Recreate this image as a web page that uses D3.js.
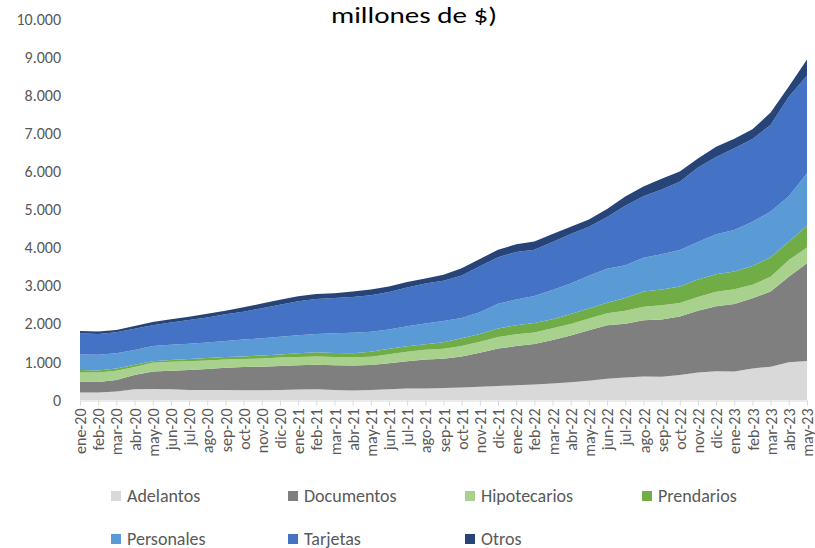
<!DOCTYPE html>
<html>
<head>
<meta charset="utf-8">
<script src="https://cdn.jsdelivr.net/npm/d3@7/dist/d3.min.js"></script>
<style>
  body { margin: 0; background: #fff; }
  svg { display: block; font-family: Carlito, Calibri, Lato, "Open Sans", sans-serif; }
</style>
</head>
<body>
<svg id="chart" width="815" height="548"></svg>
<script>
// months (ene-20 .. may-23)
const months = ['ene-20','feb-20','mar-20','abr-20','may-20','jun-20','jul-20','ago-20','sep-20','oct-20','nov-20','dic-20',
  'ene-21','feb-21','mar-21','abr-21','may-21','jun-21','jul-21','ago-21','sep-21','oct-21','nov-21','dic-21',
  'ene-22','feb-22','mar-22','abr-22','may-22','jun-22','jul-22','ago-22','sep-22','oct-22','nov-22','dic-22',
  'ene-23','feb-23','mar-23','abr-23','may-23'];

// series values, millones de $
const adelantos    = [200,200,220,280,290,280,265,260,260,255,255,260,275,280,260,250,260,280,300,305,315,330,350,365,385,410,435,465,505,560,590,615,610,655,720,755,745,830,875,990,1025];
const documentos   = [285,275,305,375,455,490,520,555,585,610,620,630,640,645,655,655,660,685,720,755,770,810,890,985,1030,1060,1140,1225,1325,1400,1410,1480,1505,1535,1620,1705,1775,1840,1970,2245,2565];
const hipotecarios = [235,245,245,210,230,235,230,225,215,210,215,225,215,220,215,215,215,235,245,260,260,280,290,305,310,300,305,305,310,320,345,350,375,355,365,380,385,355,390,440,410];
const prendarios   = [65,55,60,60,45,45,60,60,70,70,80,80,100,110,105,110,130,145,145,145,170,200,205,220,240,250,240,260,260,270,335,400,410,435,455,460,465,495,510,480,575];
const personales   = [410,410,395,390,400,400,400,410,420,440,450,465,470,480,520,535,525,505,525,540,560,535,565,650,670,710,765,805,860,895,860,890,925,960,990,1050,1090,1160,1200,1190,1375];
const tarjetas     = [555,550,550,555,545,585,625,655,700,730,790,840,890,915,920,940,960,985,1015,1050,1055,1110,1210,1225,1250,1215,1265,1295,1285,1355,1560,1615,1700,1790,1950,2030,2150,2170,2280,2615,2570];
const otros        = [60,65,65,75,85,85,85,100,95,120,120,130,130,130,130,145,150,145,145,135,160,195,190,195,200,215,205,195,190,215,240,255,280,265,240,265,250,255,320,270,420];

const seriesNames  = ['Adelantos','Documentos','Hipotecarios','Prendarios','Personales','Tarjetas','Otros'];
const seriesValues = [adelantos, documentos, hipotecarios, prendarios, personales, tarjetas, otros];
const seriesColors = ['#d9d9d9','#7f7f7f','#a9d18e','#70ad47','#5b9bd5','#4472c4','#264478'];
const yTicks = [0,1000,2000,3000,4000,5000,6000,7000,8000,9000,10000];

const svg = d3.select('#chart');

const rows = months.map((m, i) => {
  const r = { month: m };
  seriesNames.forEach((n, k) => r[n] = seriesValues[k][i]);
  return r;
});

const x = d3.scalePoint().domain(months).range([80, 807]);
const y = d3.scaleLinear().domain([0, 10000]).range([400, 19]);

const locale = d3.formatLocale({ decimal: ',', thousands: '.', grouping: [3], currency: ['$', ''] });
const fmt = locale.format(',');

// title (first line is cut off in the original)
svg.append('text')
  .attr('x', 414).attr('y', 23)
  .attr('text-anchor', 'middle')
  .attr('font-size', 23)
  .attr('font-weight', 400)
  .attr('fill', '#000')
  .attr('textLength', 166)
  .attr('lengthAdjust', 'spacingAndGlyphs')
  .text('millones de $)');

// stacked areas
const stacked = d3.stack().keys(seriesNames)(rows);
const area = d3.area()
  .x(d => x(d.data.month))
  .y0(d => y(d[0]))
  .y1(d => y(d[1]));

svg.append('g').selectAll('path')
  .data(stacked)
  .join('path')
  .attr('d', area)
  .attr('fill', (d, i) => seriesColors[i]);

// y axis
const yAxis = svg.append('g')
  .attr('transform', 'translate(61,0)')
  .call(d3.axisLeft(y).tickValues(yTicks).tickFormat(fmt).tickSize(0).tickPadding(0));
yAxis.select('.domain').remove();
yAxis.attr('font-family', null);
yAxis.selectAll('text').attr('fill', '#595959').attr('font-size', 16);

// x axis
const xAxis = svg.append('g')
  .attr('transform', 'translate(0,400.5)')
  .call(d3.axisBottom(x).tickSizeInner(5).tickSizeOuter(0));
xAxis.attr('font-family', null);
xAxis.select('.domain').attr('stroke', '#d9d9d9');
xAxis.selectAll('.tick line').attr('stroke', '#d9d9d9');
xAxis.selectAll('text')
  .attr('transform', 'rotate(-90)')
  .attr('text-anchor', 'end')
  .attr('x', -8).attr('y', 0).attr('dy', '0.35em')
  .attr('fill', '#595959').attr('font-size', 16);

// legend
const legendCols = [111, 288, 465, 642];
const legendRows = [496, 539];
const legend = svg.append('g').selectAll('g')
  .data(seriesNames)
  .join('g')
  .attr('transform', (d, i) => `translate(${legendCols[i % 4]},${legendRows[Math.floor(i / 4)]})`);
legend.append('rect')
  .attr('x', 0).attr('y', -5).attr('width', 10).attr('height', 10)
  .attr('fill', (d, i) => seriesColors[i]);
legend.append('text')
  .attr('x', 16).attr('y', 0).attr('dy', '0.35em')
  .attr('font-size', 18).attr('fill', '#595959')
  .text(d => d);
</script>
</body>
</html>
